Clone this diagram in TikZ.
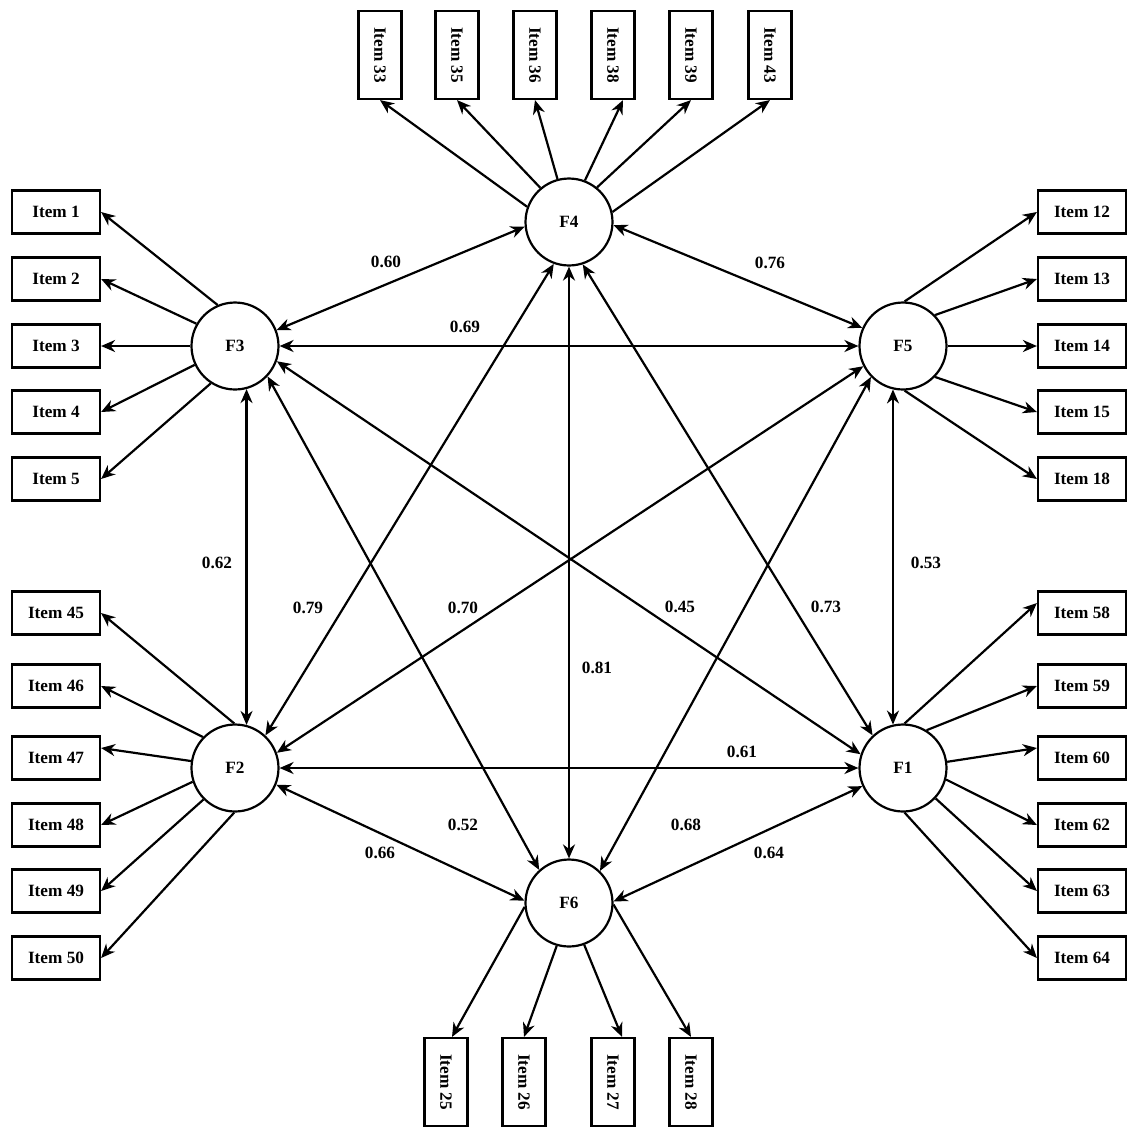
\documentclass[tikz,border=0pt]{standalone}
\usepackage{fontspec}
\setmainfont{Liberation Serif}
\usepackage{graphicx}
\usepackage{tikz}
\usetikzlibrary{arrows.meta}

\begin{document}
\begin{tikzpicture}[
  x=0.02cm,y=-0.02cm,
  >={Stealth[length=2.8mm,width=2.4mm,inset=0.9mm]},
  fac/.style={draw,circle,line width=1.25pt,minimum size=1.74cm,inner sep=0pt,font=\fontsize{9.8}{11}\selectfont\bfseries},
  itm/.style={draw,line width=1.25pt,minimum width=1.76cm,minimum height=0.86cm,inner sep=0pt,font=\fontsize{9.8}{11}\selectfont\bfseries},
  vitm/.style={itm,minimum width=0.86cm,minimum height=1.76cm},
  load/.style={->,line width=1.25pt},
  cor/.style={<->,line width=1.25pt},
  lbl/.style={inner sep=1pt,font=\fontsize{9.8}{11}\selectfont\bfseries}
]
\useasboundingbox (0,0) rectangle (1137,1137);
% factors
\node[fac] (F4) at (569,222) {F4};
\node[fac] (F3) at (235,346) {F3};
\node[fac] (F5) at (903,346) {F5};
\node[fac] (F2) at (235,768) {F2};
\node[fac] (F1) at (903,768) {F1};
\node[fac] (F6) at (569,903) {F6};
% items, left
\node[itm] (i1) at (56,212) {Item 1};
\node[itm] (i2) at (56,279) {Item 2};
\node[itm] (i3) at (56,346) {Item 3};
\node[itm] (i4) at (56,412) {Item 4};
\node[itm] (i5) at (56,479) {Item 5};
\node[itm] (i45) at (56,613) {Item 45};
\node[itm] (i46) at (56,686) {Item 46};
\node[itm] (i47) at (56,758) {Item 47};
\node[itm] (i48) at (56,825) {Item 48};
\node[itm] (i49) at (56,891) {Item 49};
\node[itm] (i50) at (56,958) {Item 50};
% items, right
\node[itm] (i12) at (1082,212) {Item 12};
\node[itm] (i13) at (1082,279) {Item 13};
\node[itm] (i14) at (1082,346) {Item 14};
\node[itm] (i15) at (1082,412) {Item 15};
\node[itm] (i18) at (1082,479) {Item 18};
\node[itm] (i58) at (1082,613) {Item 58};
\node[itm] (i59) at (1082,686) {Item 59};
\node[itm] (i60) at (1082,758) {Item 60};
\node[itm] (i62) at (1082,825) {Item 62};
\node[itm] (i63) at (1082,891) {Item 63};
\node[itm] (i64) at (1082,958) {Item 64};
% items, top and bottom
\node[vitm] (i33) at (380,55) {\rotatebox{-90}{Item 33}};
\node[vitm] (i35) at (457,55) {\rotatebox{-90}{Item 35}};
\node[vitm] (i36) at (535,55) {\rotatebox{-90}{Item 36}};
\node[vitm] (i38) at (613,55) {\rotatebox{-90}{Item 38}};
\node[vitm] (i39) at (691,55) {\rotatebox{-90}{Item 39}};
\node[vitm] (i43) at (770,55) {\rotatebox{-90}{Item 43}};
\node[vitm] (i25) at (446,1082) {\rotatebox{-90}{Item 25}};
\node[vitm] (i26) at (524,1082) {\rotatebox{-90}{Item 26}};
\node[vitm] (i27) at (613,1082) {\rotatebox{-90}{Item 27}};
\node[vitm] (i28) at (691,1082) {\rotatebox{-90}{Item 28}};
% loadings
\draw[load] (F3.113) -- (i1.east);
\draw[load] (F3.150) -- (i2.east);
\draw[load] (F3.180) -- (i3.east);
\draw[load] (F3.205) -- (i4.east);
\draw[load] (F3.237) -- (i5.east);
\draw[load] (F2.91) -- (i45.east);
\draw[load] (F2.136) -- (i46.east);
\draw[load] (F2.171) -- ([yshift=2mm]i47.east);
\draw[load] (F2.198) -- (i48.east);
\draw[load] (F2.225) -- (i49.east);
\draw[load] (F2.269) -- (i50.east);
\draw[load] (F5.88) -- (i12.west);
\draw[load] (F5.44) -- (i13.west);
\draw[load] (F5.0) -- (i14.west);
\draw[load] (F5.-44) -- (i15.west);
\draw[load] (F5.-88) -- (i18.west);
\draw[load] (F1.88) -- ([yshift=2mm]i58.west);
\draw[load] (F1.58) -- (i59.west);
\draw[load] (F1.8) -- ([yshift=2mm]i60.west);
\draw[load] (F1.-15) -- (i62.west);
\draw[load] (F1.-43) -- (i63.west);
\draw[load] (F1.-88) -- (i64.west);
\draw[load] (F4.160) -- (i33.south);
\draw[load] (F4.130) -- (i35.south);
\draw[load] (F4.105) -- (i36.south);
\draw[load] (F4.69) -- ([xshift=2mm]i38.south);
\draw[load] (F4.51) -- (i39.south);
\draw[load] (F4.13) -- (i43.south);
\draw[load] (F6.185) -- ([xshift=1.2mm]i25.north);
\draw[load] (F6.254) -- (i26.north);
\draw[load] (F6.290) -- ([xshift=1.8mm]i27.north);
\draw[load] (F6.358) -- (i28.north);
% correlations
\draw[cor] (F3.21) -- (F4.186);
\draw[cor] (F4.-4) -- (F5.156);
\draw[cor] (F3.0) -- (F5.180);
\draw[cor] (F3.-75) -- (F2.75);
\draw[cor] (F4.270) -- (F6.90);
\draw[cor] (F5.257) -- (F1.103);
\draw[cor] (F2.0) -- (F1.180);
\draw[cor] (F2.-22) -- (F6.177);
\draw[cor] (F6.2) -- (F1.204);
\draw[cor] (F3.-20) -- (F1.162);
\draw[cor] (F3.-43) -- (F6.132);
\draw[cor] (F4.250) -- (F2.47);
\draw[cor] (F4.-72) -- (F1.133);
\draw[cor] (F5.207) -- (F2.20);
\draw[cor] (F5.224) -- (F6.46);
% estimates
\node[lbl] (r34) at (386,262) {0.60};
\node[lbl] (r45) at (770,263) {0.76};
\node[lbl] (r35) at (465,327) {0.69};
\node[lbl] (r23) at (217,563) {0.62};
\node[lbl] (r24) at (308,608) {0.79};
\node[lbl] (r25) at (463,608) {0.70};
\node[lbl] (r13) at (680,607) {0.45};
\node[lbl] (r14) at (826,607) {0.73};
\node[lbl] (r15) at (926,563) {0.53};
\node[lbl] (r46) at (597,668) {0.81};
\node[lbl] (r12) at (742,752) {0.61};
\node[lbl] (r36) at (463,825) {0.52};
\node[lbl] (r56) at (686,825) {0.68};
\node[lbl] (r26) at (380,853) {0.66};
\node[lbl] (r16) at (769,853) {0.64};
\end{tikzpicture}
\end{document}
